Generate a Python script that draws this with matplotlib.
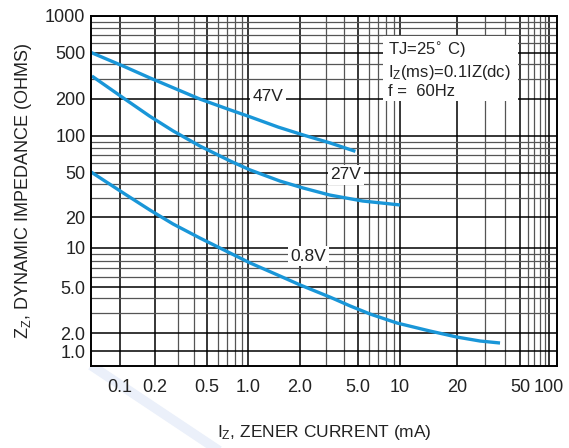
import numpy as np
import matplotlib
matplotlib.use('Agg')
import matplotlib.pyplot as plt
from matplotlib.ticker import FixedLocator, NullFormatter
from matplotlib.lines import Line2D
from matplotlib.patches import Rectangle

plt.rcParams['font.family'] = ['Liberation Sans', 'DejaVu Sans']

# data (current in mA, impedance in ohms)
i_47v = [0.056, 0.11, 0.18, 0.44, 0.74, 1.03, 1.5, 2.1, 3.2, 4.8]
z_47v = [505, 380, 305, 200, 163, 143, 118, 102, 88, 75]

i_27v = [0.057, 0.11, 0.18, 0.275, 0.44, 0.74, 1.03, 1.53, 2.1, 3.2, 5.4, 10]
z_27v = [316, 200, 145, 110, 83, 62.6, 52.9, 42.3, 36.6, 31.6, 27.9, 25.7]

i_08v = [0.056, 0.11, 0.181, 0.275, 0.441, 0.738, 1.03, 1.53, 2.0, 3.21,
         4.41, 6.1, 9.52, 14.4, 20, 27.9, 37.4]
z_08v = [51, 32.3, 23.1, 17.1, 12.5, 9.15, 7.66, 6.08, 5.19, 4.09,
         3.43, 2.92, 2.44, 2.08, 1.71, 1.47, 1.36]

x_ticks = [0.1, 0.2, 0.5, 1, 2, 5, 10, 20, 50, 100]
x_ticklabels = ['0.1', '0.2', '0.5', '1.0', '2.0', '5.0', '10', '20', '50', '100']
y_ticks = [1, 2, 5, 10, 20, 50, 100, 200, 500, 1000]
y_ticklabels = ['1.0', '2.0', '5.0', '10', '20', '50', '100', '200', '500', '1000']

# the printed log grid is not a true log grid, so calibrate a scale to it
x_cal_val = np.log10([0.056, 0.1, 0.2, 0.5, 1, 2, 5, 10, 20, 50, 100, 121])
x_cal_pos = np.array([91, 120, 155, 207, 248, 300, 358, 400, 457, 520, 549, 557], float)
y_cal_val = np.log10([0.56, 1, 2, 5, 10, 20, 50, 100, 200, 500, 1000])
y_cal_pos = -np.array([366, 351, 333, 287, 248, 217, 173, 136, 99, 53, 16], float)


def fwd_x(v):
    return np.interp(np.log10(np.clip(v, 1e-9, None)), x_cal_val, x_cal_pos)


def inv_x(p):
    return 10 ** np.interp(p, x_cal_pos, x_cal_val)


def fwd_y(v):
    return np.interp(np.log10(np.clip(v, 1e-9, None)), y_cal_val, y_cal_pos)


def inv_y(p):
    return 10 ** np.interp(p, y_cal_pos, y_cal_val)


fig = plt.figure(figsize=(5.69, 4.48), dpi=100)
ax = fig.add_axes([91 / 569, 1 - 366 / 448, 466 / 569, 350 / 448])
ax.set_xscale('function', functions=(fwd_x, inv_x))
ax.set_yscale('function', functions=(fwd_y, inv_y))
ax.set_xlim(0.056, 121)
ax.set_ylim(0.56, 1000)

# grid
x_minor = [m * 10.0 ** d for d in range(-1, 2) for m in range(2, 10)]
y_minor = [m * 10.0 ** d for d in range(0, 3) for m in range(2, 10)]
ax.xaxis.set_major_locator(FixedLocator(x_ticks))
ax.yaxis.set_major_locator(FixedLocator(y_ticks))
ax.xaxis.set_minor_locator(FixedLocator(x_minor))
ax.yaxis.set_minor_locator(FixedLocator(y_minor))
ax.xaxis.set_minor_formatter(NullFormatter())
ax.yaxis.set_minor_formatter(NullFormatter())
ax.set_xticklabels(x_ticklabels)
ax.set_yticklabels(y_ticklabels)
ax.grid(which='major', color='black', linewidth=1.1)
ax.grid(which='minor', color='#555555', linewidth=0.9)
ax.tick_params(which='both', length=0, labelsize=13, colors='#222222')
ax.tick_params(axis='x', pad=9)
ax.tick_params(axis='y', pad=4)
for s in ax.spines.values():
    s.set_linewidth(1.4)
    s.set_zorder(5)

blue = '#1996d8'
ax.plot(i_47v, z_47v, color=blue, linewidth=2.4, solid_capstyle='butt', zorder=4)
ax.plot(i_27v, z_27v, color=blue, linewidth=2.4, solid_capstyle='butt', zorder=4)
ax.plot(i_08v, z_08v, color=blue, linewidth=2.4, solid_capstyle='butt', zorder=4)

# curve labels
box = dict(facecolor='white', edgecolor='none', pad=2)
ax.text(0.380, 0.769, '47V', transform=ax.transAxes, ha='center', va='center',
        fontsize=12.5, color='#222222', bbox=box, zorder=3)
ax.text(0.547, 0.546, '27V', transform=ax.transAxes, ha='center', va='center',
        fontsize=12.5, color='#222222', bbox=box, zorder=3)
ax.text(0.466, 0.314, '0.8V', transform=ax.transAxes, ha='center', va='center',
        fontsize=12.5, color='#222222', bbox=box, zorder=3)

# conditions box
ax.add_patch(Rectangle((0.626, 0.757), 0.29, 0.186, transform=ax.transAxes,
                       facecolor='white', edgecolor='none', zorder=3))
ax.text(0.637, 0.903, 'TJ=25$^{\\circ}$ C)', transform=ax.transAxes, ha='left',
        va='center', fontsize=12, color='#222222', zorder=4)
ax.text(0.637, 0.838, '$\\mathregular{I_Z}$(ms)=0.1IZ(dc)', transform=ax.transAxes,
        ha='left', va='center', fontsize=12, color='#222222', zorder=4)
ax.text(0.637, 0.785, 'f =  60Hz', transform=ax.transAxes, ha='left',
        va='center', fontsize=12, color='#222222', zorder=4)

ax.set_xlabel('$\\mathregular{I_Z}$, ZENER CURRENT (mA)', fontsize=12.5,
              color='#222222', labelpad=20)
ax.set_ylabel('$\\mathregular{Z_Z}$, DYNAMIC IMPEDANCE (OHMS)', fontsize=13,
              color='#222222', labelpad=8)

# faint watermark streak at bottom left
fig.add_artist(Line2D([95 / 569, 215 / 569], [1 - 368 / 448, 1 - 448 / 448],
                      transform=fig.transFigure, color='#ebf0fa', linewidth=7,
                      zorder=0))

fig.savefig('out.png', dpi=100)
